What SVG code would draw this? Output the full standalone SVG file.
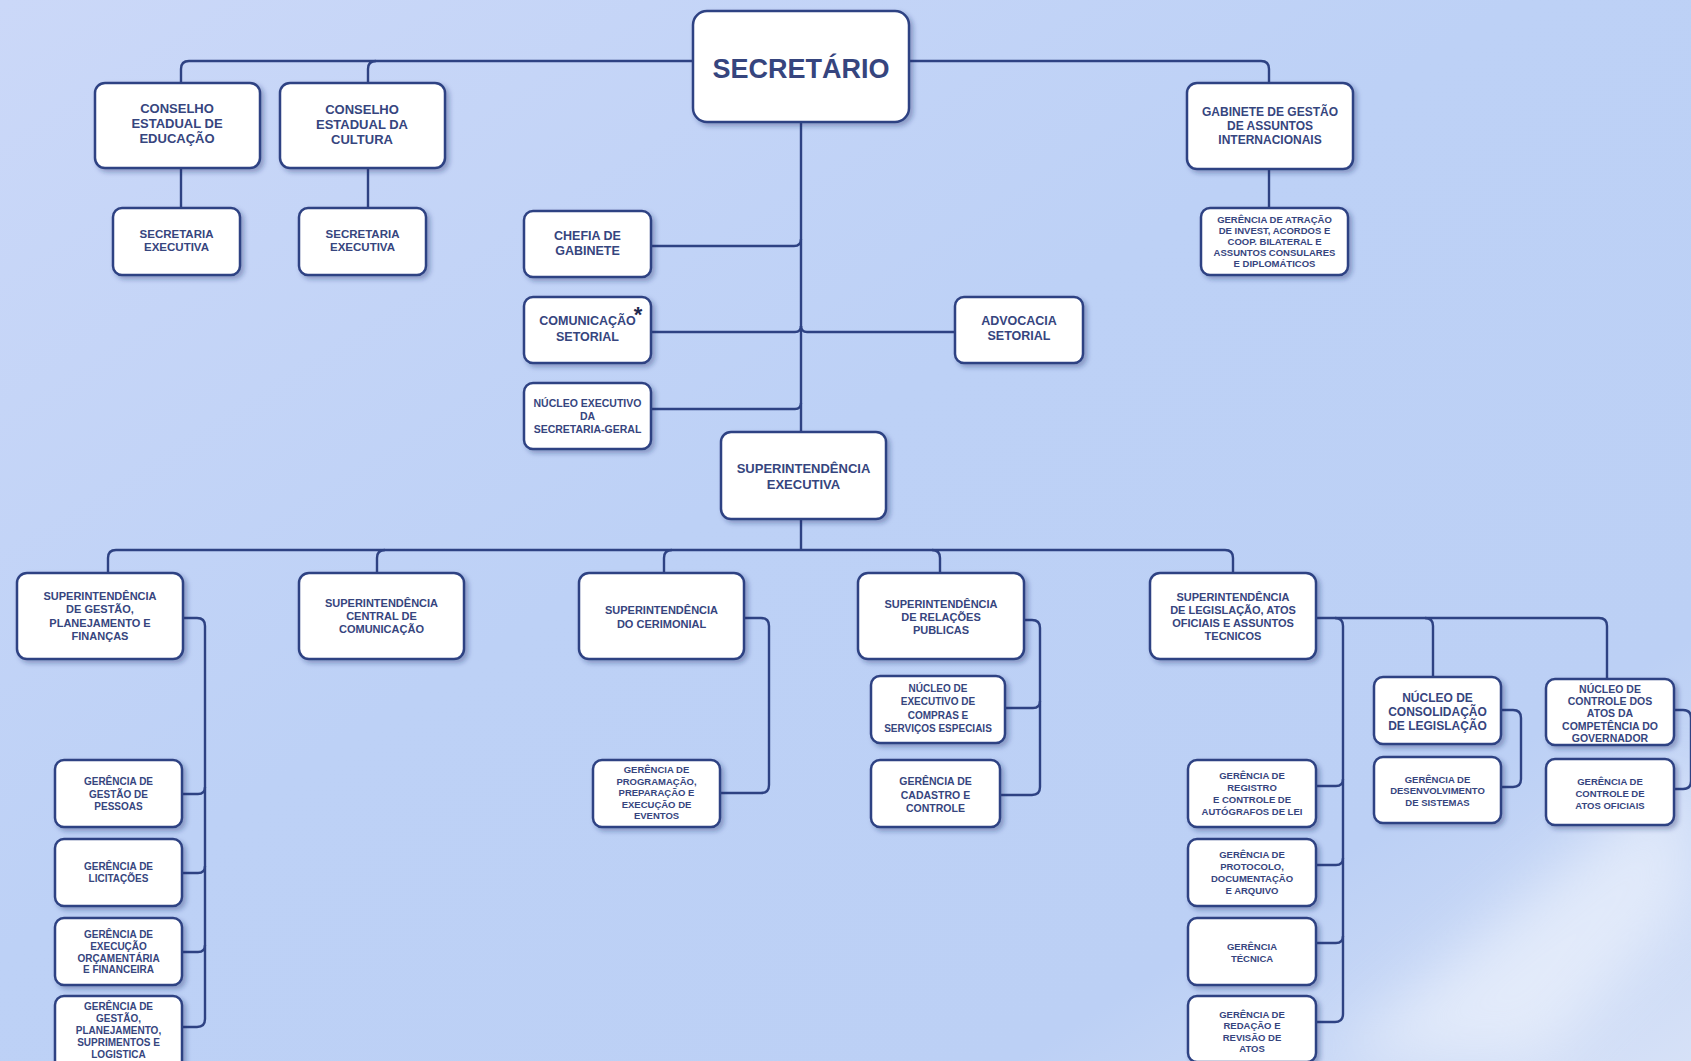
<svg xmlns="http://www.w3.org/2000/svg" width="1691" height="1061" viewBox="0 0 1691 1061">
  <defs>
    <linearGradient id="bg" x1="0" y1="0" x2="1" y2="1">
      <stop offset="0" stop-color="#cbd8f8"/>
      <stop offset="0.45" stop-color="#bdd1f6"/>
      <stop offset="0.8" stop-color="#bcd0f5"/>
      <stop offset="1" stop-color="#d6e1f7"/>
    </linearGradient>
    <filter id="soft" x="-20%" y="-20%" width="150%" height="150%">
      <feGaussianBlur stdDeviation="30"/>
    </filter>
    <filter id="shadow" x="-10%" y="-10%" width="130%" height="140%">
      <feDropShadow dx="3" dy="3" stdDeviation="2.5" flood-color="#1d2f66" flood-opacity="0.35"/>
    </filter>
    <style>
      .node rect { fill: #ffffff; stroke: #2e4283; stroke-width: 2.5; filter: url(#shadow); }
      .node text { font-family: "Liberation Sans", Arial, sans-serif; font-weight: bold; fill: #36457e; text-anchor: middle; }
      .links path { fill: none; stroke: #2e4283; stroke-width: 2.4; }
      .f27 { font-size: 27px; }
      .f13 { font-size: 13px; }
      .f125 { font-size: 12.5px; }
      .f12 { font-size: 12px; }
      .f115 { font-size: 11.5px; }
      .f11 { font-size: 11px; }
      .f105 { font-size: 10.5px; }
      .f10 { font-size: 10px; }
      .f95 { font-size: 9.5px; }
    </style>
  </defs>

  <!-- background with a soft light streak in the lower right -->
  <rect x="0" y="0" width="1691" height="1061" fill="url(#bg)"/>
  <polygon points="1330,1061 1691,760 1691,900 1540,1061" fill="#ffffff" opacity="0.45" filter="url(#soft)"/>

  <!-- connectors -->
  <g id="connectors" class="links">
    <!-- top bar from SECRETÁRIO -->
    <path d="M181 83 V69 Q181 61 189 61 H1261 Q1269 61 1269 69 V83"/>
    <path d="M368 83 V69 Q368 61 376 61"/>
    <path d="M181 168 V208"/>
    <path d="M368 168 V208"/>
    <path d="M1269 169 V208"/>
    <!-- central spine -->
    <path d="M801 122 V432"/>
    <path d="M651 246 H794 Q801 246 801 239"/>
    <path d="M651 332 H795 Q801 332 801 326"/>
    <path d="M955 332 H807 Q801 332 801 326"/>
    <path d="M651 409 H795 Q801 409 801 403"/>
    <!-- superintendências bar -->
    <path d="M801 519 V550"/>
    <path d="M108 573 V558 Q108 550 116 550 H1225 Q1233 550 1233 558 V573"/>
    <path d="M377 573 V558 Q377 550 385 550"/>
    <path d="M664 573 V558 Q664 550 672 550"/>
    <path d="M940 573 V558 Q940 550 932 550"/>
    <!-- gestão, planejamento e finanças -->
    <path d="M183 618 H197 Q205 618 205 626 V1019 Q205 1027 197 1027 H182"/>
    <path d="M182 794 H198 Q205 794 205 787"/>
    <path d="M182 873 H198 Q205 873 205 866"/>
    <path d="M182 952 H198 Q205 952 205 945"/>
    <!-- cerimonial -->
    <path d="M744 618 H761 Q769 618 769 626 V785 Q769 793 761 793 H720"/>
    <!-- relações públicas -->
    <path d="M1024 620 H1032 Q1040 620 1040 628 V787 Q1040 795 1032 795 H1000"/>
    <path d="M1004 708 H1033 Q1040 708 1040 701"/>
    <!-- legislação -->
    <path d="M1316 618 H1599 Q1607 618 1607 626 V679"/>
    <path d="M1335 618 Q1343 618 1343 626 V1014 Q1343 1022 1335 1022 H1316"/>
    <path d="M1425 618 Q1433 618 1433 626 V677"/>
    <path d="M1316 786 H1336 Q1343 786 1343 779"/>
    <path d="M1316 865 H1336 Q1343 865 1343 858"/>
    <path d="M1316 943 H1336 Q1343 943 1343 936"/>
    <path d="M1500 710 H1513 Q1521 710 1521 718 V779 Q1521 787 1513 787 H1500"/>
    <path d="M1674 710 H1683 Q1691 710 1691 718 V781 Q1691 789 1683 789 H1674"/>
  </g>

  <!-- top level -->
  <g id="secretario" class="node">
    <rect x="693" y="11" width="216" height="111" rx="14"/>
    <text class="f27" x="801" y="78">SECRETÁRIO</text>
  </g>
  <g id="conselho-educacao" class="node">
    <rect x="95" y="83" width="165" height="85" rx="10"/>
    <text class="f13"><tspan x="177" y="113">CONSELHO</tspan><tspan x="177" y="128">ESTADUAL DE</tspan><tspan x="177" y="143">EDUCAÇÃO</tspan></text>
  </g>
  <g id="conselho-cultura" class="node">
    <rect x="280" y="83" width="165" height="85" rx="10"/>
    <text class="f13"><tspan x="362" y="114">CONSELHO</tspan><tspan x="362" y="129">ESTADUAL DA</tspan><tspan x="362" y="144">CULTURA</tspan></text>
  </g>
  <g id="secretaria-executiva-educacao" class="node">
    <rect x="113" y="208" width="127" height="67" rx="9"/>
    <text class="f115"><tspan x="176.5" y="238">SECRETARIA</tspan><tspan x="176.5" y="251">EXECUTIVA</tspan></text>
  </g>
  <g id="secretaria-executiva-cultura" class="node">
    <rect x="299" y="208" width="127" height="67" rx="9"/>
    <text class="f115"><tspan x="362.5" y="238">SECRETARIA</tspan><tspan x="362.5" y="251">EXECUTIVA</tspan></text>
  </g>
  <g id="gabinete-internacional" class="node">
    <rect x="1187" y="83" width="166" height="86" rx="10"/>
    <text class="f12"><tspan x="1270" y="116">GABINETE DE GESTÃO</tspan><tspan x="1270" y="130">DE ASSUNTOS</tspan><tspan x="1270" y="144">INTERNACIONAIS</tspan></text>
  </g>
  <g id="gerencia-atracao" class="node">
    <rect x="1201" y="208" width="147" height="67" rx="9"/>
    <text class="f95"><tspan x="1274.5" y="222.5">GERÊNCIA DE ATRAÇÃO</tspan><tspan x="1274.5" y="233.5">DE INVEST, ACORDOS E</tspan><tspan x="1274.5" y="244.5">COOP. BILATERAL E</tspan><tspan x="1274.5" y="255.5">ASSUNTOS CONSULARES</tspan><tspan x="1274.5" y="266.5">E DIPLOMÁTICOS</tspan></text>
  </g>

  <!-- assessorias -->
  <g id="chefia-gabinete" class="node">
    <rect x="524" y="211" width="127" height="66" rx="9"/>
    <text class="f125"><tspan x="587.5" y="240">CHEFIA DE</tspan><tspan x="587.5" y="255">GABINETE</tspan></text>
  </g>
  <g id="comunicacao-setorial" class="node">
    <rect x="524" y="297" width="127" height="66" rx="9"/>
    <text class="f125"><tspan x="587.5" y="325">COMUNICAÇÃO</tspan><tspan x="587.5" y="341">SETORIAL</tspan></text>
    <text x="638" y="322" style="font-size:22px;fill:#1f2a4f">*</text>
  </g>
  <g id="nucleo-secretaria-geral" class="node">
    <rect x="524" y="383" width="127" height="66" rx="9"/>
    <text class="f105"><tspan x="587.5" y="407">NÚCLEO EXECUTIVO</tspan><tspan x="587.5" y="420">DA</tspan><tspan x="587.5" y="433">SECRETARIA-GERAL</tspan></text>
  </g>
  <g id="advocacia-setorial" class="node">
    <rect x="955" y="297" width="128" height="66" rx="9"/>
    <text class="f125"><tspan x="1019" y="325">ADVOCACIA</tspan><tspan x="1019" y="340">SETORIAL</tspan></text>
  </g>
  <g id="superintendencia-executiva" class="node">
    <rect x="721" y="432" width="165" height="87" rx="10"/>
    <text class="f13"><tspan x="803.5" y="473">SUPERINTENDÊNCIA</tspan><tspan x="803.5" y="489">EXECUTIVA</tspan></text>
  </g>

  <!-- superintendências -->
  <g id="sup-gestao-planejamento-financas" class="node">
    <rect x="17" y="573" width="166" height="86" rx="10"/>
    <text class="f11"><tspan x="100" y="600">SUPERINTENDÊNCIA</tspan><tspan x="100" y="613">DE GESTÃO,</tspan><tspan x="100" y="627">PLANEJAMENTO E</tspan><tspan x="100" y="640">FINANÇAS</tspan></text>
  </g>
  <g id="sup-central-comunicacao" class="node">
    <rect x="299" y="573" width="165" height="86" rx="10"/>
    <text class="f11"><tspan x="381.5" y="607">SUPERINTENDÊNCIA</tspan><tspan x="381.5" y="620">CENTRAL DE</tspan><tspan x="381.5" y="633">COMUNICAÇÃO</tspan></text>
  </g>
  <g id="sup-cerimonial" class="node">
    <rect x="579" y="573" width="165" height="86" rx="10"/>
    <text class="f11"><tspan x="661.5" y="614">SUPERINTENDÊNCIA</tspan><tspan x="661.5" y="628">DO CERIMONIAL</tspan></text>
  </g>
  <g id="sup-relacoes-publicas" class="node">
    <rect x="858" y="573" width="166" height="86" rx="10"/>
    <text class="f11"><tspan x="941" y="608">SUPERINTENDÊNCIA</tspan><tspan x="941" y="621">DE RELAÇÕES</tspan><tspan x="941" y="634">PUBLICAS</tspan></text>
  </g>
  <g id="sup-legislacao" class="node">
    <rect x="1150" y="573" width="166" height="86" rx="10"/>
    <text class="f11"><tspan x="1233" y="601">SUPERINTENDÊNCIA</tspan><tspan x="1233" y="614">DE LEGISLAÇÃO, ATOS</tspan><tspan x="1233" y="627">OFICIAIS E ASSUNTOS</tspan><tspan x="1233" y="640">TECNICOS</tspan></text>
  </g>

  <!-- gerências: gestão, planejamento e finanças -->
  <g id="gerencia-pessoas" class="node">
    <rect x="55" y="760" width="127" height="67" rx="9"/>
    <text class="f10"><tspan x="118.5" y="784.5">GERÊNCIA DE</tspan><tspan x="118.5" y="797.5">GESTÃO DE</tspan><tspan x="118.5" y="809.5">PESSOAS</tspan></text>
  </g>
  <g id="gerencia-licitacoes" class="node">
    <rect x="55" y="839" width="127" height="67" rx="9"/>
    <text class="f10"><tspan x="118.5" y="869.5">GERÊNCIA DE</tspan><tspan x="118.5" y="881.5">LICITAÇÕES</tspan></text>
  </g>
  <g id="gerencia-execucao" class="node">
    <rect x="55" y="918" width="127" height="67" rx="9"/>
    <text class="f10"><tspan x="118.5" y="937.5">GERÊNCIA DE</tspan><tspan x="118.5" y="949.5">EXECUÇÃO</tspan><tspan x="118.5" y="961.5">ORÇAMENTÁRIA</tspan><tspan x="118.5" y="973">E FINANCEIRA</tspan></text>
  </g>
  <g id="gerencia-suprimentos" class="node">
    <rect x="55" y="996" width="127" height="74" rx="9"/>
    <text class="f10"><tspan x="118.5" y="1009.5">GERÊNCIA DE</tspan><tspan x="118.5" y="1021.5">GESTÃO,</tspan><tspan x="118.5" y="1033.5">PLANEJAMENTO,</tspan><tspan x="118.5" y="1045.5">SUPRIMENTOS E</tspan><tspan x="118.5" y="1057.5">LOGISTICA</tspan></text>
  </g>

  <!-- gerência: cerimonial -->
  <g id="gerencia-eventos" class="node">
    <rect x="593" y="760" width="127" height="67" rx="9"/>
    <text class="f95"><tspan x="656.5" y="773">GERÊNCIA DE</tspan><tspan x="656.5" y="784.5">PROGRAMAÇÃO,</tspan><tspan x="656.5" y="796">PREPARAÇÃO E</tspan><tspan x="656.5" y="807.5">EXECUÇÃO DE</tspan><tspan x="656.5" y="819">EVENTOS</tspan></text>
  </g>

  <!-- relações públicas -->
  <g id="nucleo-compras" class="node">
    <rect x="871" y="676" width="134" height="67" rx="9"/>
    <text class="f10"><tspan x="938" y="691.5">NÚCLEO DE</tspan><tspan x="938" y="705">EXECUTIVO DE</tspan><tspan x="938" y="718.5">COMPRAS E</tspan><tspan x="938" y="732">SERVIÇOS ESPECIAIS</tspan></text>
  </g>
  <g id="gerencia-cadastro" class="node">
    <rect x="871" y="760" width="129" height="67" rx="9"/>
    <text class="f105"><tspan x="935.5" y="785">GERÊNCIA DE</tspan><tspan x="935.5" y="799">CADASTRO E</tspan><tspan x="935.5" y="812">CONTROLE</tspan></text>
  </g>

  <!-- legislação -->
  <g id="gerencia-registro" class="node">
    <rect x="1188" y="760" width="128" height="67" rx="9"/>
    <text class="f95"><tspan x="1252" y="778.5">GERÊNCIA DE</tspan><tspan x="1252" y="790.5">REGISTRO</tspan><tspan x="1252" y="802.5">E CONTROLE DE</tspan><tspan x="1252" y="814.5">AUTÓGRAFOS DE LEI</tspan></text>
  </g>
  <g id="gerencia-protocolo" class="node">
    <rect x="1188" y="839" width="128" height="67" rx="9"/>
    <text class="f95"><tspan x="1252" y="857.5">GERÊNCIA DE</tspan><tspan x="1252" y="869.5">PROTOCOLO,</tspan><tspan x="1252" y="881.5">DOCUMENTAÇÃO</tspan><tspan x="1252" y="893.5">E ARQUIVO</tspan></text>
  </g>
  <g id="gerencia-tecnica" class="node">
    <rect x="1188" y="918" width="128" height="67" rx="9"/>
    <text class="f95"><tspan x="1252" y="949.5">GERÊNCIA</tspan><tspan x="1252" y="961.5">TÉCNICA</tspan></text>
  </g>
  <g id="gerencia-redacao" class="node">
    <rect x="1188" y="996" width="128" height="66" rx="9"/>
    <text class="f95"><tspan x="1252" y="1017.5">GERÊNCIA DE</tspan><tspan x="1252" y="1029">REDAÇÃO E</tspan><tspan x="1252" y="1040.5">REVISÃO DE</tspan><tspan x="1252" y="1052">ATOS</tspan></text>
  </g>
  <g id="nucleo-consolidacao" class="node">
    <rect x="1374" y="677" width="127" height="67" rx="9"/>
    <text class="f12"><tspan x="1437.5" y="702">NÚCLEO DE</tspan><tspan x="1437.5" y="716">CONSOLIDAÇÃO</tspan><tspan x="1437.5" y="730">DE LEGISLAÇÃO</tspan></text>
  </g>
  <g id="gerencia-sistemas" class="node">
    <rect x="1374" y="757" width="127" height="66" rx="9"/>
    <text class="f95"><tspan x="1437.5" y="782.5">GERÊNCIA DE</tspan><tspan x="1437.5" y="794">DESENVOLVIMENTO</tspan><tspan x="1437.5" y="805.5">DE SISTEMAS</tspan></text>
  </g>
  <g id="nucleo-controle" class="node">
    <rect x="1546" y="679" width="128" height="66" rx="9"/>
    <text class="f105"><tspan x="1610" y="692.5">NÚCLEO DE</tspan><tspan x="1610" y="704.5">CONTROLE DOS</tspan><tspan x="1610" y="717">ATOS DA</tspan><tspan x="1610" y="729.5">COMPETÊNCIA DO</tspan><tspan x="1610" y="742">GOVERNADOR</tspan></text>
  </g>
  <g id="gerencia-atos-oficiais" class="node">
    <rect x="1546" y="759" width="128" height="66" rx="9"/>
    <text class="f95"><tspan x="1610" y="784.5">GERÊNCIA DE</tspan><tspan x="1610" y="796.5">CONTROLE DE</tspan><tspan x="1610" y="808.5">ATOS OFICIAIS</tspan></text>
  </g>
</svg>
